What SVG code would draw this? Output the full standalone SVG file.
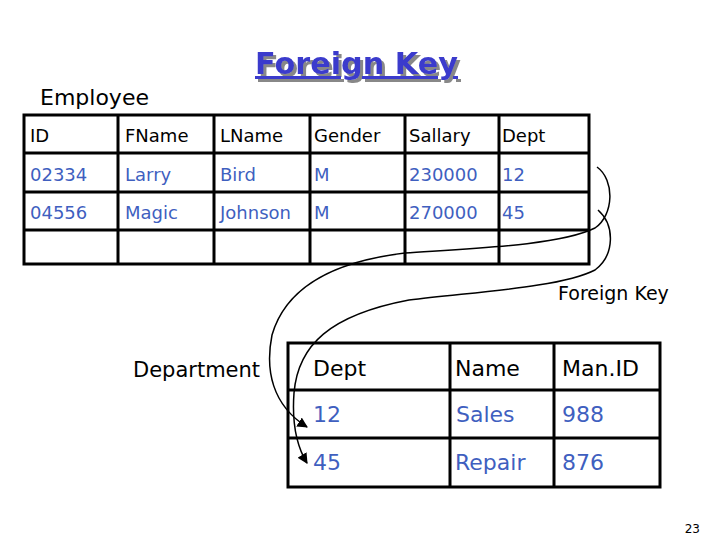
<svg xmlns="http://www.w3.org/2000/svg" width="720" height="540" viewBox="0 0 720 540">
<style>
text{font-family:"DejaVu Sans","Noto Sans",sans-serif}
.h{font-size:18px;fill:#000}
.v{font-size:18px;fill:#3f5fbf}
.h2{font-size:22px;fill:#000}
.v2{font-size:22px;fill:#3f5fbf}
.g{fill:none;stroke:#000;stroke-width:3}
.c{fill:none;stroke:#000;stroke-width:1.5}
</style>
<defs>
<marker id="a" viewBox="0 0 10 10" refX="9" refY="5" markerWidth="7" markerHeight="7" orient="auto"><path d="M0,0L10,5L0,10z" fill="#000"/></marker>
<filter id="s" x="-10%" y="-20%" width="130%" height="150%"><feDropShadow dx="3" dy="3" stdDeviation="0.5" flood-color="#888"/></filter>
</defs>
<rect width="720" height="540" fill="#fff"/>
<g id="title">
<text x="255" y="74" font-size="30" font-weight="bold" fill="#3a3acc" textLength="203" lengthAdjust="spacingAndGlyphs" filter="url(#s)" style="text-decoration:underline">Foreign Key</text>
</g>
<text x="40" y="105" font-size="22" fill="#000">Employee</text>
<g id="employee">
<rect x="24" y="115" width="565" height="149" class="g"/>
<path class="g" d="M24,153H589M24,192H589M24,230H589M118,115V264M214,115V264M310,115V264M405,115V264M499,115V264"/>
<text class="h" x="30" y="142">ID</text><text class="h" x="125" y="142">FName</text><text class="h" x="220" y="142">LName</text><text class="h" x="314" y="142">Gender</text><text class="h" x="409" y="142">Sallary</text><text class="h" x="502" y="142">Dept</text>
<text class="v" x="30" y="181">02334</text><text class="v" x="125" y="181">Larry</text><text class="v" x="220" y="181">Bird</text><text class="v" x="314" y="181">M</text><text class="v" x="409" y="181">230000</text><text class="v" x="502" y="181">12</text>
<text class="v" x="30" y="219">04556</text><text class="v" x="125" y="219">Magic</text><text class="v" x="220" y="219">Johnson</text><text class="v" x="314" y="219">M</text><text class="v" x="409" y="219">270000</text><text class="v" x="502" y="219">45</text>
</g>
<text x="558" y="300" font-size="19" fill="#000">Foreign Key</text>
<text x="133" y="377" font-size="21" fill="#000">Department</text>
<g id="department">
<rect x="288" y="343" width="372" height="144" class="g"/>
<path class="g" d="M288,390H660M288,438H660M450,343V487M554,343V487"/>
<text class="h2" x="313" y="376">Dept</text><text class="h2" x="455" y="376">Name</text><text class="h2" x="562" y="376">Man.ID</text>
<text class="v2" x="313" y="422">12</text><text class="v2" x="456" y="422">Sales</text><text class="v2" x="562" y="422">988</text>
<text class="v2" x="313" y="470">45</text><text class="v2" x="455" y="470">Repair</text><text class="v2" x="562" y="470">876</text>
</g>
<g id="connectors">
<path class="c" marker-end="url(#a)" d="M597,167C615,180 614,215 595,228C560,245 480,248 405,253C330,262 285,290 272,335C265,370 272,405 307,427"/>
<path class="c" marker-end="url(#a)" d="M598,210C615,225 615,255 595,270C560,288 470,292 409,300C330,315 298,345 294,393C292,420 296,445 307,463"/>
</g>
<text x="700" y="533" font-size="12" fill="#000" text-anchor="end">23</text>
</svg>
